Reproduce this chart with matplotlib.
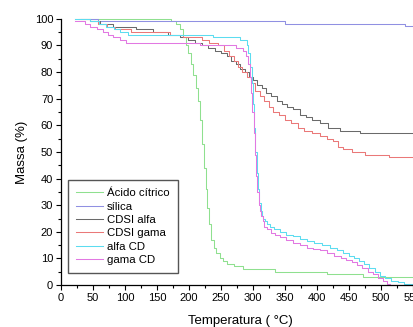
import matplotlib
matplotlib.use("Agg")
import matplotlib.pyplot as plt
from matplotlib.ticker import MultipleLocator

plt.rcParams['font.family'] = ['Liberation Sans', 'DejaVu Sans']

# Ácido cítrico
t_acido = [22, 172, 180, 186, 191, 195, 199, 203, 207, 211, 214, 217, 220, 223, 226, 229, 232, 235, 239,
           243, 248, 253, 260, 270, 285, 334, 415, 472, 565]
m_acido = [100, 99, 98, 96, 93, 90, 87, 83, 79, 74, 69, 62, 53, 44, 36, 29, 23, 17, 14,
           12, 10, 9, 8, 7, 6, 5, 4, 3, 3]

# sílica
t_silica = [45, 58, 350, 537, 565]
m_silica = [100, 99, 98, 97.3, 97.3]

# CDSI alfa
t_cdsi_alfa = [32, 45, 61, 82, 118, 144, 168, 186, 198, 210, 220, 230, 240, 250, 259, 266, 273, 280, 287,
               294, 300, 307, 314, 321, 329, 337, 345, 354, 363, 373, 383, 393, 405, 418, 436, 467, 565]
m_cdsi_alfa = [100, 99, 98, 97, 96, 95, 94, 93, 92, 91, 90, 89, 88, 87, 86, 84, 83, 81, 80,
               78, 77, 75, 74, 72, 71, 69, 68, 67, 66, 64, 63, 62, 61, 59, 58, 57, 57]

# CDSI gama
t_cdsi_gama = [28, 45, 58, 72, 85, 110, 170, 190, 220, 232, 245, 255, 262, 270, 277, 283, 290, 297, 304,
               311, 318, 325, 332, 340, 350, 360, 370, 380, 392, 405, 415, 425, 433, 441, 455, 475, 512, 565]
m_cdsi_gama = [100, 99, 98, 97, 96, 95, 94, 93, 92, 91, 90, 88, 86, 84, 82, 80, 78, 76, 73,
               71, 69, 67, 65, 64, 62, 61, 59, 58, 57, 56, 55, 54, 52, 51, 50, 49, 48, 48]

# alfa CD
t_alfa_cd = [22, 45, 60, 70, 83, 92, 105, 238, 280, 290, 293, 296, 298, 300, 302, 304, 306, 308, 310, 312,
             314, 316, 319, 322, 327, 333, 342, 352, 362, 373, 385, 396, 408, 420, 432, 441, 450, 458,
             466, 474, 482, 490, 498, 507, 516, 526, 536, 565]
m_alfa_cd = [100, 99, 98, 97, 96, 95, 94, 93, 92, 90, 87, 82, 76, 68, 59, 50, 42, 36, 31, 28,
             26, 25, 24, 23, 22, 21, 20, 19, 18.5, 17.5, 16.5, 16, 15, 14, 13, 12, 11, 10,
             9, 8, 6.5, 5, 3.5, 2.5, 1.5, 1, 0.5, 0.5]

# gama CD
t_gama_cd = [22, 37, 45, 56, 66, 74, 82, 92, 102, 217, 274, 285, 289, 292, 295, 297, 299, 301, 303, 305,
             307, 309, 311, 313, 315, 318, 322, 328, 335, 342, 352, 362, 373, 384, 394, 405, 416, 427,
             437, 446, 455, 463, 471, 479, 487, 495, 503, 510, 514, 565]
m_gama_cd = [99.3, 98, 97, 96, 95, 94, 93, 92, 91, 90, 89, 88, 86, 83, 78, 72, 65, 57, 49, 41,
             35, 30, 28, 26, 24, 22, 21, 19.5, 18.8, 18, 17, 16, 15, 14, 13.5, 13, 12, 11,
             10, 9.4, 8.5, 7.5, 6.5, 5, 4, 2.5, 1.5, 0.5, 0, 0]

series = [
    ("Ácido cítrico", t_acido, m_acido, "#8fe08f"),
    ("sílica", t_silica, m_silica, "#9090e2"),
    ("CDSI alfa", t_cdsi_alfa, m_cdsi_alfa, "#6a6a6a"),
    ("CDSI gama", t_cdsi_gama, m_cdsi_gama, "#ea7878"),
    ("alfa CD", t_alfa_cd, m_alfa_cd, "#5cdcf0"),
    ("gama CD", t_gama_cd, m_gama_cd, "#e278e2"),
]

fig = plt.figure(figsize=(4.14, 3.27), dpi=100)
ax = fig.add_axes([0.147, 0.128, 0.866, 0.815])

for name, t, m, c in series:
    ax.plot(t, m, color=c, lw=0.75, drawstyle='steps-post', label=name, clip_on=False)

ax.set_xlim(0, 560)
ax.set_ylim(0, 100)
ax.xaxis.set_major_locator(MultipleLocator(50))
ax.xaxis.set_minor_locator(MultipleLocator(25))
ax.yaxis.set_major_locator(MultipleLocator(10))
ax.yaxis.set_minor_locator(MultipleLocator(5))
ax.tick_params(which='major', direction='out', length=3.5, width=0.8, labelsize=8, pad=2)
ax.tick_params(which='minor', direction='out', length=2, width=0.8)
for s in ['top', 'right']:
    ax.spines[s].set_visible(False)
for s in ['left', 'bottom']:
    ax.spines[s].set_linewidth(0.9)

ax.set_xlabel("Temperatura ( °C)", fontsize=9.5, labelpad=9)
ax.set_ylabel("Massa (%)", fontsize=9.5, labelpad=5)

leg = ax.legend(loc='lower left', bbox_to_anchor=(0.0195, 0.045), borderaxespad=0,
                fontsize=8.2, handlelength=2.4, handletextpad=0.35, labelspacing=0.3,
                borderpad=0.7, fancybox=False, framealpha=1, edgecolor='#555555')
leg.get_frame().set_linewidth(1.0)

fig.savefig("out.png", dpi=100)
